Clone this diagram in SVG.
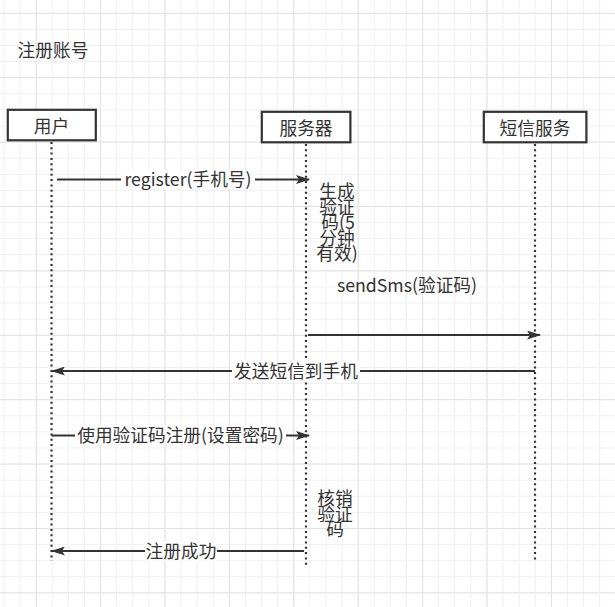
<svg xmlns="http://www.w3.org/2000/svg" width="615" height="607" viewBox="0 0 615 607">
<style>
text{font-family:"Noto Sans CJK SC","Microsoft YaHei","Noto Sans",sans-serif;font-size:17.7px;fill:#333;text-anchor:middle}
.box{fill:#fff;stroke:#333;stroke-width:2.2}
.life{stroke:#333;stroke-width:2.2;stroke-dasharray:2 3.3;fill:none}
.msg{stroke:#333;stroke-width:2;fill:none;marker-end:url(#arr)}
.lbg{fill:#fff}
</style>
<defs>
<pattern id="minor" patternUnits="userSpaceOnUse" x="3.5" y="12.8" width="16.1" height="16.1">
<path d="M0 0.5H16.1M0.5 0V16.1" stroke="#f0f0f0" stroke-width="1" fill="none"/>
</pattern>
<pattern id="major" patternUnits="userSpaceOnUse" x="35.7" y="12.8" width="64.4" height="64.4">
<path d="M0 0.5H64.4M0.5 0V64.4" stroke="#e2e2e2" stroke-width="1" fill="none"/>
</pattern>
<marker id="arr" markerUnits="userSpaceOnUse" viewBox="0 0 14 9" refX="13" refY="4.5" markerWidth="14" markerHeight="9" orient="auto">
<path d="M0 0L14 4.5L0 9L3 4.5Z" fill="#333"/>
</marker>
</defs>
<rect width="615" height="607" fill="#fff"/>
<rect width="615" height="607" fill="url(#minor)"/>
<rect width="615" height="607" fill="url(#major)"/>

<g id="title"><text x="53" y="57" style="text-anchor:middle">注册账号</text></g>

<g id="user">
<line class="life" x1="51.5" y1="142" x2="51.5" y2="561"/>
<rect class="box" x="7.8" y="109.8" width="88" height="30.5"/>
<text x="51.5" y="133">用户</text>
</g>
<g id="server">
<line class="life" x1="306" y1="144" x2="306" y2="565"/>
<rect class="box" x="261.8" y="111.8" width="88.6" height="30.5"/>
<text x="306" y="134.5">服务器</text>
</g>
<g id="sms">
<line class="life" x1="535" y1="144" x2="535" y2="560"/>
<rect class="box" x="483.8" y="111.8" width="102.6" height="30.5"/>
<text x="535" y="134.5">短信服务</text>
</g>

<g id="note-gen">
<text x="337" y="198">生成</text>
<text x="337" y="213.5">验证</text>
<text x="338" y="229">码(5</text>
<text x="337" y="244.5">分钟</text>
<text x="337" y="260">有效)</text>
</g>
<g id="note-verify">
<text x="335" y="505">核销</text>
<text x="335" y="520.5">验证</text>
<text x="335" y="536">码</text>
</g>

<g id="connectors">
<line class="msg" x1="57" y1="179.5" x2="309" y2="179.5"/>
<rect class="lbg" x="121" y="170" width="134" height="19"/>
<text x="188" y="186">register(手机号)</text>

<text x="407" y="291.5">sendSms(验证码)</text>
<line class="msg" x1="308" y1="335" x2="540" y2="335"/>

<line class="msg" x1="535" y1="371" x2="52" y2="371"/>
<rect class="lbg" x="232" y="361" width="128" height="20"/>
<text x="296" y="377.5">发送短信到手机</text>

<line class="msg" x1="51.5" y1="435.5" x2="309" y2="435.5"/>
<rect class="lbg" x="75" y="426" width="211" height="19"/>
<text x="180.5" y="442">使用验证码注册(设置密码)</text>

<line class="msg" x1="304" y1="551" x2="52" y2="551"/>
<rect class="lbg" x="145" y="541.5" width="72" height="19"/>
<text x="181" y="557.5">注册成功</text>
</g>
</svg>
